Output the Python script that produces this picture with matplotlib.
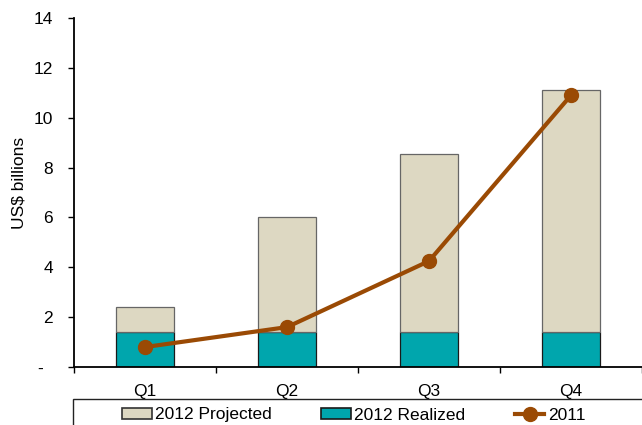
import matplotlib
matplotlib.use("Agg")
import matplotlib.pyplot as plt
from matplotlib.patches import Patch, Rectangle
from matplotlib.lines import Line2D
import numpy as np

plt.rcParams['font.family'] = ['Liberation Sans', 'DejaVu Sans']

quarters = ["Q1", "Q2", "Q3", "Q4"]
realized_2012 = [1.4, 1.4, 1.4, 1.4]
projected_2012 = [1.0, 4.6, 7.15, 9.7]
values_2011 = [0.8, 1.6, 4.25, 10.9]
y_ticks = [0, 2, 4, 6, 8, 10, 12, 14]
y_tick_labels = ["-  ", "2", "4", "6", "8", "10", "12", "14"]

c_proj = "#DDD8C2"
c_real = "#00A6AD"
c_line = "#9A4A04"

W, H = 642, 425
fig = plt.figure(figsize=(W / 100, H / 100), dpi=100)
ax = fig.add_axes([74 / W, 1 - 367 / H, 1 - 74 / W, (367 - 18) / H])

x = np.arange(len(quarters))
bw = 0.405
ax.bar(x, realized_2012, bw, color=c_real, edgecolor="#1a1a1a", linewidth=0.9, zorder=2)
ax.bar(x, projected_2012, bw, bottom=realized_2012, color=c_proj,
       edgecolor="#666666", linewidth=0.9, zorder=2)
ax.plot(x, values_2011, color=c_line, linewidth=3, marker="o", markersize=10, zorder=3)

# category axis runs a few pixels past the right edge of the figure
ax.set_xlim(-0.5, -0.5 + (W - 74) / 143)
ax.set_ylim(0, 14)
ax.set_yticks(y_ticks)
ax.set_yticklabels(y_tick_labels)
ax.tick_params(axis="y", direction="out", length=4, width=1, pad=11, labelsize=12.5)

ax.set_xticks(x)
ax.set_xticklabels(quarters)
ax.set_xticks(np.arange(-0.5, 4.0, 1.0), minor=True)
ax.tick_params(axis="x", which="major", length=0, pad=12, labelsize=12.5)
ax.tick_params(axis="x", which="minor", direction="out", length=4, width=1)

for s in ["top", "right"]:
    ax.spines[s].set_visible(False)
for s in ["left", "bottom"]:
    ax.spines[s].set_linewidth(1.3)
    ax.spines[s].set_color("black")

fig.text(19 / W, 1 - 183 / H, "US$ billions", rotation=90, ha="center", va="center",
         fontsize=12.5)

# legend box running off the lower right edge
fig.patches.append(Rectangle((73 / W, -0.05), 1.0, 1 - 399 / H + 0.05,
                             transform=fig.transFigure, facecolor="white",
                             edgecolor="#222222", linewidth=1, zorder=0))

handles = [
    Patch(facecolor=c_proj, edgecolor="#333333", linewidth=1.2),
    Patch(facecolor=c_real, edgecolor="#1a1a1a", linewidth=1.2),
    Line2D([], [], color=c_line, linewidth=3, marker="o", markersize=10),
]
labels = ["2012 Projected", "2012 Realized", "2011"]
fig.legend(handles, labels, loc="center left", bbox_to_anchor=(122 / W, 1 - 415 / H),
           ncol=3, frameon=False, fontsize=12.5, handlelength=1.7, handleheight=0.6,
           handletextpad=0.2, columnspacing=2.85, borderpad=0, borderaxespad=0)

fig.savefig("out.png", dpi=100)
